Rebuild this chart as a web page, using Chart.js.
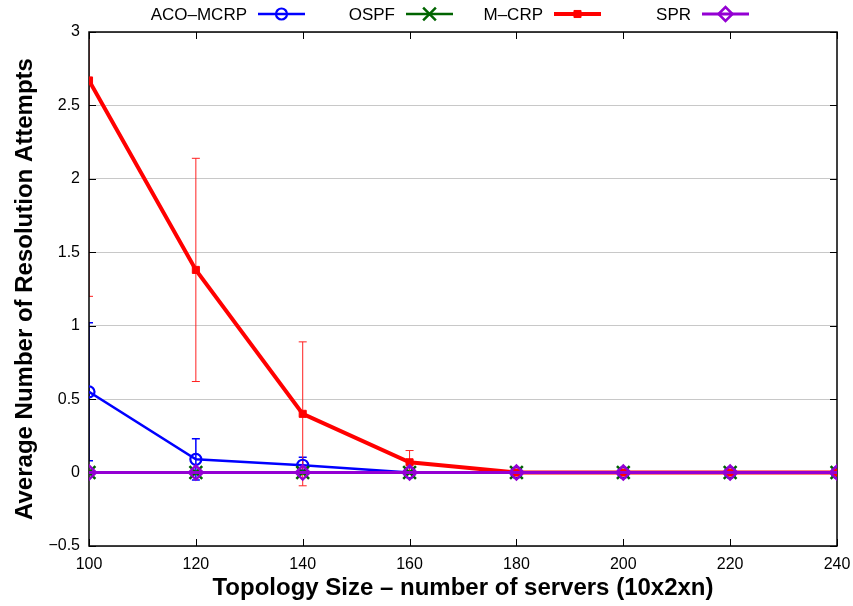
<!DOCTYPE html>
<html>
<head>
<meta charset="utf-8">
<script src="https://cdn.jsdelivr.net/npm/chart.js@4/dist/chart.umd.min.js"></script>
<style>
html,body{margin:0;padding:0;background:#fff;}
#wrap{width:853px;height:606px;}
</style>
</head>
<body>
<div id="wrap"><canvas id="c" width="853" height="606"></canvas></div>
<script>
// ---- data ----
const topologySizes = [100, 120, 140, 160, 180, 200, 220, 240];
const acoMcrp    = [0.55, 0.09, 0.05, 0, 0, 0, 0, 0];
const acoMcrpErr = [0.47, 0.14, 0.055, 0, 0, 0, 0, 0];
const ospf       = [0, 0, 0, 0, 0, 0, 0, 0];
const mCrp       = [2.67, 1.38, 0.40, 0.07, 0, 0, 0, 0];
const mCrpErr    = [1.47, 0.76, 0.49, 0.08, 0, 0, 0, 0];
const spr        = [0, 0, 0, 0, 0, 0, 0, 0];
const seriesNames = ['ACO–MCRP', 'OSPF', 'M–CRP', 'SPR'];
const xTicks = [100, 120, 140, 160, 180, 200, 220, 240];
const yTicks = [-0.5, 0, 0.5, 1, 1.5, 2, 2.5, 3];
const xTitle = 'Topology Size – number of servers (10x2xn)';
const yTitle = 'Average Number of Resolution Attempts';

const pts = arr => arr.map((v, i) => ({x: topologySizes[i], y: v}));

const FONT = '"Liberation Sans", Arial, Helvetica, sans-serif';

const boxPlugin = {
  id: 'gnuBox',
  beforeDatasetsDraw(chart) {
    const {ctx, chartArea: a, scales} = chart;
    const xs = scales.x, ys = scales.y;
    ctx.save();
    // error bars
    ctx.beginPath();
    ctx.rect(a.left, a.top, a.right - a.left, a.bottom - a.top);
    ctx.clip();
    chart.data.datasets.forEach(ds => {
      if (!ds.errors) return;
      ctx.strokeStyle = ds.errColor;
      ctx.lineWidth = ds.errWidth;
      ds.data.forEach((p, i) => {
        const e = ds.errors[i];
        if (!e) return;
        const px = xs.getPixelForValue(p.x);
        const yHi = ys.getPixelForValue(p.y + e);
        const yLo = ys.getPixelForValue(p.y - e);
        ctx.beginPath();
        ctx.moveTo(px, yHi); ctx.lineTo(px, yLo);
        ctx.moveTo(px - 4, yHi); ctx.lineTo(px + 4, yHi);
        ctx.moveTo(px - 4, yLo); ctx.lineTo(px + 4, yLo);
        ctx.stroke();
      });
    });
    ctx.restore();
    ctx.save();
    // inward ticks
    ctx.strokeStyle = '#000';
    ctx.lineWidth = 1;
    ctx.beginPath();
    yTicks.forEach(v => {
      const py = Math.round(ys.getPixelForValue(v)) + 0.5;
      ctx.moveTo(a.left, py); ctx.lineTo(a.left + 7, py);
      ctx.moveTo(a.right, py); ctx.lineTo(a.right - 7, py);
    });
    xTicks.forEach(v => {
      const px = Math.round(xs.getPixelForValue(v)) + 0.5;
      ctx.moveTo(px, a.bottom); ctx.lineTo(px, a.bottom - 7);
      ctx.moveTo(px, a.top); ctx.lineTo(px, a.top + 7);
    });
    ctx.stroke();
    // border box
    ctx.lineWidth = 1.5;
    ctx.strokeStyle = '#000';
    ctx.strokeRect(a.left, a.top, a.right - a.left, a.bottom - a.top);
    ctx.restore();
  },
  afterDraw(chart) {
    const {ctx} = chart;
    ctx.save();
    ctx.font = '17px ' + FONT;
    ctx.textBaseline = 'middle';
    ctx.textAlign = 'right';
    const y = 14;
    chart.data.datasets.forEach((ds, i) => {
      const s = 258 + 148 * i;
      ctx.fillStyle = '#000';
      ctx.fillText(ds.label, s - 11, y + 1);
      ctx.strokeStyle = ds.borderColor;
      ctx.lineWidth = ds.borderWidth;
      ctx.beginPath();
      ctx.moveTo(s, y); ctx.lineTo(s + 47, y);
      ctx.stroke();
      ctx.fillStyle = ds.pointBackgroundColor;
      ctx.strokeStyle = ds.pointBorderColor;
      ctx.lineWidth = ds.pointBorderWidth;
      Chart.helpers.drawPoint(ctx, {
        pointStyle: ds.pointStyle,
        radius: ds.pointRadius,
        borderWidth: ds.pointBorderWidth
      }, s + 23.5, y);
    });
    ctx.restore();
  }
};

new Chart(document.getElementById('c'), {
  type: 'line',
  data: {
    datasets: [
      {
        label: seriesNames[0], data: pts(acoMcrp), errors: acoMcrpErr,
        errColor: '#0000ff', errWidth: 1.5,
        borderColor: '#0000ff', borderWidth: 2.5,
        pointStyle: 'circle', pointRadius: 5.5, pointBorderWidth: 2.2,
        pointBorderColor: '#0000ff', pointBackgroundColor: 'rgba(0,0,0,0)',
        order: 3
      },
      {
        label: seriesNames[1], data: pts(ospf),
        borderColor: '#006400', borderWidth: 2.5,
        pointStyle: 'crossRot', pointRadius: 9, pointBorderWidth: 2.5,
        pointBorderColor: '#006400', pointBackgroundColor: 'rgba(0,0,0,0)',
        order: 2
      },
      {
        label: seriesNames[2], data: pts(mCrp), errors: mCrpErr,
        errColor: '#ff2020', errWidth: 1,
        borderColor: '#ff0000', borderWidth: 4,
        pointStyle: 'rect', pointRadius: 5, pointBorderWidth: 1,
        pointBorderColor: '#ff0000', pointBackgroundColor: '#ff0000',
        order: 1
      },
      {
        label: seriesNames[3], data: pts(spr),
        borderColor: '#9400d3', borderWidth: 3,
        pointStyle: 'rectRot', pointRadius: 7, pointBorderWidth: 2.5,
        pointBorderColor: '#9400d3', pointBackgroundColor: 'rgba(0,0,0,0)',
        order: 0
      }
    ]
  },
  options: {
    responsive: false,
    animation: false,
    devicePixelRatio: 1,
    layout: {padding: {top: 32, right: 16, left: 0, bottom: 0}},
    plugins: {legend: {display: false}, tooltip: {enabled: false}},
    elements: {line: {tension: 0}},
    scales: {
      x: {
        type: 'linear', min: 100, max: 240,
        afterBuildTicks: s => { s.ticks = xTicks.map(v => ({value: v})); },
        afterFit: s => { s.height = 60; s.paddingLeft = 0; s.paddingRight = 0; },
        grid: {display: false, drawTicks: false},
        border: {display: false},
        ticks: {color: '#000', padding: 9, font: {family: FONT, size: 16}, maxRotation: 0, autoSkip: false},
        title: {display: true, text: xTitle, color: '#000', font: {family: FONT, size: 24, weight: 'bold'}, padding: {top: 0, bottom: 3}}
      },
      y: {
        type: 'linear', min: -0.5, max: 3,
        afterBuildTicks: s => { s.ticks = yTicks.map(v => ({value: v})); },
        afterFit: s => { s.width = 89; s.paddingTop = 0; s.paddingBottom = 0; },
        grid: {display: true, color: '#c8c8c8', lineWidth: 1, drawTicks: false},
        border: {display: false},
        ticks: {color: '#000', padding: 9, font: {family: FONT, size: 16},
                callback: v => String(v).replace('-', '−')},
        title: {display: true, text: yTitle, color: '#000', font: {family: FONT, size: 24, weight: 'bold'}, padding: {top: 11, bottom: 0}}
      }
    }
  },
  plugins: [boxPlugin]
});
</script>
</body>
</html>
